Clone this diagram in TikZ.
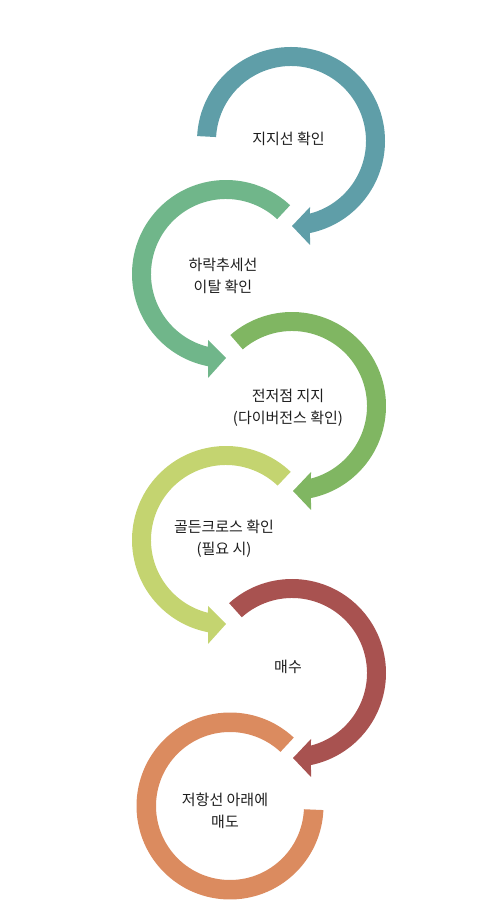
\documentclass[tikz,border=0pt]{standalone}
\usepackage{fontspec}
\setmainfont{Noto Sans CJK KR}
\definecolor{cA}{HTML}{5F9EA8}
\definecolor{cB}{HTML}{70B68A}
\definecolor{cC}{HTML}{80B662}
\definecolor{cD}{HTML}{C4D470}
\definecolor{cE}{HTML}{A85250}
\definecolor{cF}{HTML}{DB8B5F}
\definecolor{txt}{HTML}{1E1E1E}
\newcommand{\cwArrow}[4]{%
  \begin{scope}[shift={(#2,#3)}]
    \fill[#1] (#4:94) arc[start angle=#4,end angle=-78.34,radius=94]
      -- (19,-104) -- (1,-85) -- (19,-66) -- (-75.33:75)
      arc[start angle=-75.33,end angle=#4,radius=75] -- cycle;
  \end{scope}}
\newcommand{\ccwArrow}[4]{%
  \begin{scope}[shift={(#2,#3)}]
    \fill[#1] (#4:94) arc[start angle=#4,end angle=258.96,radius=94]
      -- (-18,-104) -- (0,-84) -- (-18,-66) -- (256.11:75)
      arc[start angle=256.11,end angle=#4,radius=75] -- cycle;
  \end{scope}}
\begin{document}
\begin{tikzpicture}[x=1pt,y=1pt,
  lbl/.style={font=\fontsize{15}{22}\selectfont, align=center, text=txt, inner sep=0pt}]
\useasboundingbox (0,0) rectangle (482,906);
\cwArrow{cA}{291}{765}{177}
\ccwArrow{cB}{226}{632}{47}
\cwArrow{cC}{292}{500}{131}
\ccwArrow{cD}{226}{366}{46.5}
\cwArrow{cE}{292}{233}{132}
\begin{scope}[shift={(230,100)}]
  \fill[cF] (47:93.5) arc[start angle=47,end angle=357.5,radius=93.5]
    -- (357.5:74) arc[start angle=357.5,end angle=47,radius=74] -- cycle;
\end{scope}
\node[lbl] (t1) at (288.5,767) {지지선 확인};
\node[lbl] (t2) at (223,630) {하락추세선\\이탈 확인};
\node[lbl] (t3) at (288,498.5) {전저점 지지\\(다이버전스 확인)};
\node[lbl] (t4) at (224,367) {골든크로스 확인\\(필요 시)};
\node[lbl] (t5) at (288,239) {매수};
\node[lbl] (t6) at (225,95) {저항선 아래에\\매도};
\end{tikzpicture}
\end{document}
